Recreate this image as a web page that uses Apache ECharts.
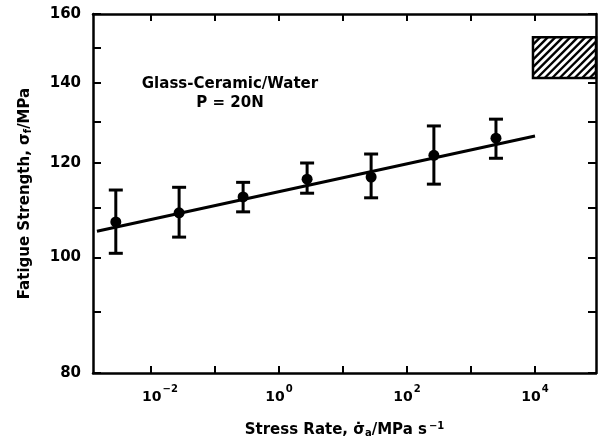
<!DOCTYPE html>
<html>
<head>
<meta charset="utf-8">
<script src="https://cdn.jsdelivr.net/npm/echarts@6/dist/echarts.min.js"></script>
<style>
html,body{margin:0;padding:0;background:#fff;}
#chart{width:601px;height:444px;}
</style>
</head>
<body>
<div id="chart"></div>
<script>
// ---- data ----
const stressRate   = [0.00282, 0.0275, 0.275, 2.75, 27.5, 263, 2455];   // MPa/s
const strength     = [107.1, 109.0, 112.4, 116.3, 116.8, 121.8, 125.9];  // MPa
const strengthHigh = [113.9, 114.5, 115.6, 120.0, 122.1, 128.9, 130.6];
const strengthLow  = [100.8, 104.0, 109.2, 113.2, 112.2, 115.2, 121.1];
const fitRate      = [0.00143, 10000];
const fitStrength  = [105.2, 126.4];
const boxRate      = [9300];          // hatched region starts here, runs to the right frame
const boxStrength  = [141.4, 153.0];
const xTickDecades = [-2, -1, 0, 1, 2, 3, 4];
const xLabelDecades = [-2, 0, 2, 4];
const yTicks       = [80, 90, 100, 110, 120, 130, 140, 150, 160];
const yLabels      = [80, 100, 120, 140, 160];
const xRangeDecades = [-2.906, 4.953];
const yRange       = [80, 160];

const L = Math.log10;
const FONT = '"DejaVu Sans", "Liberation Sans", Arial, sans-serif';

const xMin = xRangeDecades[0], xMax = xRangeDecades[1];
const yMin = L(yRange[0]), yMax = L(yRange[1]);

const pts = stressRate.map((r, i) => [L(r), L(strength[i])]);
const errs = stressRate.map((r, i) => [L(r), L(strengthLow[i]), L(strengthHigh[i])]);
const fit = fitRate.map((r, i) => [L(r), L(fitStrength[i])]);
const box = [[L(boxRate[0]), xMax, L(boxStrength[0]), L(boxStrength[1])]];

const supMap = {'-2':'−2','-1':'−1','0':'0','1':'1','2':'2','3':'3','4':'4'};

function xAxisCfg(pos, showLabel) {
  return {
    type: 'value', position: pos, min: xMin, max: xMax,
    axisLine: {show: true, onZero: false, lineStyle: {color: '#000', width: 2.5}},
    axisTick: {show: true, inside: true, length: 7, customValues: xTickDecades,
               lineStyle: {color: '#000', width: 2}},
    splitLine: {show: false},
    axisLabel: {
      show: showLabel, customValues: xLabelDecades, margin: 11,
      formatter: v => {
        const k = String(Math.round(v));
        return (k === '-2' ? '{pad|}' : '') + '{b|10}{s|' + supMap[k] + '}';
      },
      rich: {
        pad: {width: 18},
        b: {fontFamily: FONT, fontWeight: 'bold', fontSize: 14, color: '#000', verticalAlign: 'bottom', lineHeight: 20},
        s: {fontFamily: FONT, fontWeight: 'bold', fontSize: 10, color: '#000', verticalAlign: 'top', lineHeight: 20, padding: [0, 0, 9, 1]}
      }
    }
  };
}
function yAxisCfg(pos, showLabel) {
  return {
    type: 'value', position: pos, min: yMin, max: yMax,
    axisLine: {show: true, onZero: false, lineStyle: {color: '#000', width: 2.5}},
    axisTick: {show: true, inside: true, length: 8, customValues: yTicks.map(L),
               lineStyle: {color: '#000', width: 2}},
    splitLine: {show: false},
    axisLabel: {
      show: showLabel, customValues: yLabels.map(L), margin: 12,
      formatter: v => String(Math.round(Math.pow(10, v))),
      fontFamily: FONT, fontWeight: 'bold', fontSize: 15, color: '#000'
    }
  };
}

const xBottom = xAxisCfg('bottom', true);
xBottom.name = 'Stress Rate, σ̇{sub|a}/MPa s{sup|−1}';
xBottom.nameLocation = 'middle';
xBottom.nameGap = 48;
xBottom.nameTextStyle = {
  fontFamily: FONT, fontWeight: 'bold', fontSize: 15, color: '#000',
  rich: {
    sub: {fontFamily: FONT, fontWeight: 'bold', fontSize: 10, color: '#000', padding: [6, 0, 0, 0]},
    sup: {fontFamily: FONT, fontWeight: 'bold', fontSize: 10, color: '#000', padding: [0, 0, 8, 2]}
  }
};
const yLeft = yAxisCfg('left', true);
yLeft.name = 'Fatigue Strength, σ{sub|f}/MPa';
yLeft.nameLocation = 'middle';
yLeft.nameGap = 60;
yLeft.nameTextStyle = {
  fontFamily: FONT, fontWeight: 'bold', fontSize: 15, color: '#000',
  rich: {
    sub: {fontFamily: FONT, fontWeight: 'bold', fontSize: 10, color: '#000', padding: [6, 0, 0, 0]}
  }
};

const chart = echarts.init(document.getElementById('chart'), null, {renderer: 'canvas'});
chart.setOption({
  animation: false,
  backgroundColor: '#fff',
  grid: {left: 93, right: 5, top: 14, bottom: 71},
  xAxis: [xBottom, xAxisCfg('top', false)],
  yAxis: [yLeft, yAxisCfg('right', false)],
  graphic: [
    {type: 'text', x: 230, y: 84, style: {text: 'Glass-Ceramic/Water', font: 'bold 15px ' + FONT,
      textAlign: 'center', textVerticalAlign: 'middle', fill: '#000'}},
    {type: 'text', x: 230, y: 103, style: {text: 'P = 20N', font: 'bold 15px ' + FONT,
      textAlign: 'center', textVerticalAlign: 'middle', fill: '#000'}}
  ],
  series: [
    {
      type: 'custom', xAxisIndex: 0, yAxisIndex: 0, data: box, silent: true, z: 1,
      encode: {x: [0, 1], y: [2, 3]},
      renderItem: (params, api) => {
        const p0 = api.coord([api.value(0), api.value(3)]);
        const p1 = api.coord([api.value(1), api.value(2)]);
        const x0 = p0[0], y0 = p0[1], x1 = p1[0], y1 = p1[1];
        const children = [{type: 'rect', shape: {x: x0, y: y0, width: x1 - x0, height: y1 - y0},
          style: {fill: '#fff', stroke: '#000', lineWidth: 2.5}}];
        const step = 7.5;
        for (let c = x0 + y0 + step; c < x1 + y1; c += step) {
          const xa = Math.max(x0, c - y1), xb = Math.min(x1, c - y0);
          if (xb <= xa) continue;
          children.push({type: 'line', shape: {x1: xa, y1: c - xa, x2: xb, y2: c - xb},
            style: {stroke: '#000', lineWidth: 2.4}});
        }
        return {type: 'group', children};
      }
    },
    {
      type: 'line', data: fit, showSymbol: false, symbol: 'none', z: 2,
      lineStyle: {color: '#000', width: 3}
    },
    {
      type: 'custom', data: errs, z: 3, encode: {x: 0, y: [1, 2]},
      renderItem: (params, api) => {
        const x = api.value(0);
        const lo = api.coord([x, api.value(1)]);
        const hi = api.coord([x, api.value(2)]);
        const w = 7;
        const st = {stroke: '#000', lineWidth: 3};
        return {type: 'group', children: [
          {type: 'line', shape: {x1: lo[0], y1: lo[1], x2: hi[0], y2: hi[1]}, style: st},
          {type: 'line', shape: {x1: lo[0] - w, y1: lo[1], x2: lo[0] + w, y2: lo[1]}, style: st},
          {type: 'line', shape: {x1: hi[0] - w, y1: hi[1], x2: hi[0] + w, y2: hi[1]}, style: st}
        ]};
      }
    },
    {
      type: 'scatter', data: pts, symbol: 'circle', symbolSize: 11, z: 4,
      itemStyle: {color: '#000', opacity: 1}
    }
  ]
});
</script>
</body>
</html>
